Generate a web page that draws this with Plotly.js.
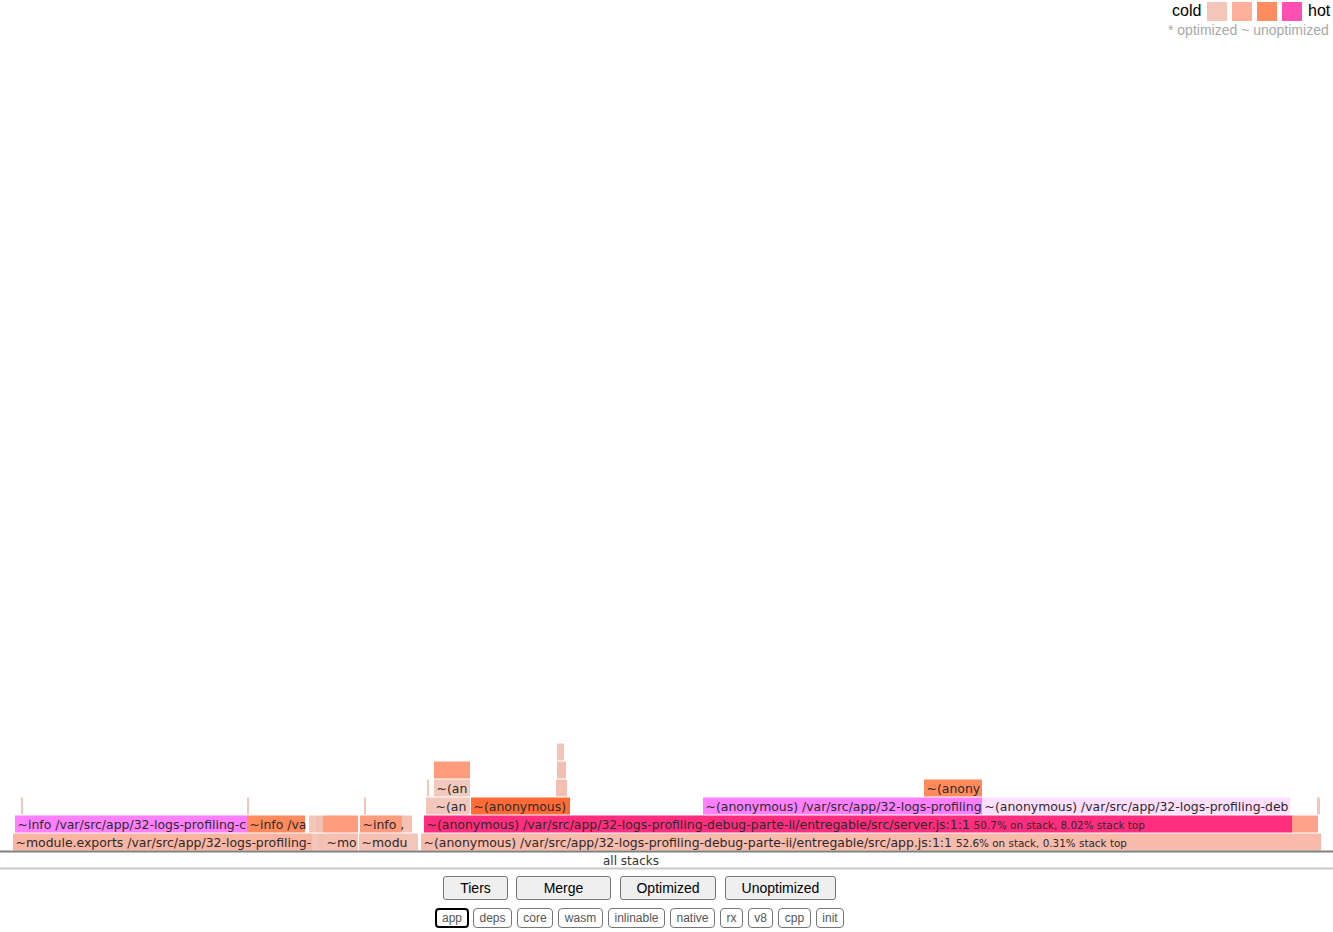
<!DOCTYPE html>
<html>
<head>
<meta charset="utf-8">
<script src="https://cdn.plot.ly/plotly-3.0.1.min.js"></script>
<style>
  html, body { margin: 0; padding: 0; background: #fff; }
  #chart { position: absolute; left: 0; top: 0; width: 1333px; height: 932px; }
  .btn { position: absolute; box-sizing: border-box; background: #efefef; border: 1px solid #767676;
         border-radius: 3px; font-family: "Liberation Sans", Arial, sans-serif; font-size: 14px; color: #000;
         text-align: center; padding: 0; margin: 0; line-height: 22px; }
  .tag { position: absolute; box-sizing: border-box; background: #fff; border: 1px solid #767676;
         border-radius: 4px; font-family: "Liberation Sans", Arial, sans-serif; font-size: 12px; color: #555;
         text-align: center; padding: 0; margin: 0; line-height: 18px; }
  .tag.on { border: 2px solid #000; line-height: 16px; }
</style>
</head>
<body>
<div id="chart"></div>
<script>
// ---- data (x in flamegraph width units, 0..1333 = full view) ----
const frameRow   = [0,0,0,0,0,0,0,
                    1,1,1,1,1,1,1,1,1,
                    2,2,2,2,2,2,2,2,2,
                    3,3,3,3,
                    4,4,
                    5];
const frameStart = [13,312,318,324,359,407,421,
                    15,247,309,316,323,360,402,424,1292,
                    21,247,364,426,433,471,703,982,1317,
                    427,434,556,924,
                    434,557,
                    557];
const frameEnd   = [312,318,324,358,407,418,1321,
                    247,305,316,323,358,402,412,1292,1318,
                    23,249,366,433,470,570,982,1290,1320,
                    429,470,567,982,
                    470,566,
                    564];
const frameLabel = [
  "~module.exports /var/src/app/32-logs-profiling-",
  "", "", "~mo", "~modu", "",
  "~(anonymous) /var/src/app/32-logs-profiling-debug-parte-ii/entregable/src/app.js:1:1",
  "~info /var/src/app/32-logs-profiling-c", "~info /va", "", "", "", "~info ,", "",
  "~(anonymous) /var/src/app/32-logs-profiling-debug-parte-ii/entregable/src/server.js:1:1",
  "",
  "", "", "", "", "~(an", "~(anonymous)",
  "~(anonymous) /var/src/app/32-logs-profiling",
  "~(anonymous) /var/src/app/32-logs-profiling-deb", "",
  "", "~(an", "", "~(anony",
  "", "",
  ""];
const frameStats = ["", "", "", "", "", "", "52.6% on stack, 0.31% stack top",
                    "", "", "", "", "", "", "", "50.7% on stack, 8.02% stack top", "",
                    "", "", "", "", "", "", "", "", "",
                    "", "", "", "",
                    "", "",
                    ""];
// heat class of each frame
const frameHeat  = ["warm1","pale","pale2","pale3","pale3","pale",  "warm0",
                    "app","orange","pale","pale2","salmon","salmon","pale3","hot","salmon2",
                    "pale","pale","pale","pale","pale4","red","app","appPale","pale",
                    "pale","pale4","pale2","orange",
                    "salmon","pale2",
                    "pale"];
const legendColors = ["#f4c6ba", "#ffb09b", "#ff8c5e", "#ff4fb3"];
const typeButtons = ["Tiers", "Merge", "Optimized", "Unoptimized"];
const filterButtons = ["app", "deps", "core", "wasm", "inlinable", "native", "rx", "v8", "cpp", "init"];

// ---- styles ----
const heatColor = {
  warm0: "#f7baab", warm1: "#fab4a2", pale: "#f4c5b9", pale2: "#f2bfb3", pale3: "#f6c0b3",
  pale4: "#f3c9be", salmon: "#ff9c7c", salmon2: "#ffa08a", orange: "#ff8a5c", red: "#ff6a35",
  hot: "#ff2d7d", app: "#ff80ff", appPale: "#ffdfff"
};
const W = 1333, H = 932;
const px = x => x / W, py = y => 1 - y / H;

const barTrace = {
  type: "bar", orientation: "h",
  y: frameRow,
  base: frameStart,
  x: frameStart.map((s, i) => frameEnd[i] - s),
  width: 0.94,
  marker: { color: frameHeat.map(h => heatColor[h]), line: { width: 0 } },
  hoverinfo: "none", textposition: "none"
};
const labelText = frameLabel.map((l, i) =>
  frameStats[i] ? l + ' <span style="font-size:10.4px">' + frameStats[i] + '</span>' : l);
const textTrace = {
  type: "scatter", mode: "text",
  x: frameStart.map(s => s + 2.5),
  y: frameRow.map(r => r - 0.1),
  text: labelText,
  textposition: "middle right",
  textfont: { family: "DejaVu Sans, Verdana, sans-serif", size: 12.45, color: "#2a2a2a" },
  hoverinfo: "none", cliponaxis: false
};

const shapes = [
  { type: "line", xref: "paper", yref: "paper", x0: 0, x1: 1, y0: py(851.5), y1: py(851.5),
    line: { color: "#808080", width: 2 } },
  { type: "line", xref: "paper", yref: "paper", x0: 0, x1: 1, y0: py(868.5), y1: py(868.5),
    line: { color: "#c8c8c8", width: 2 } }
];
legendColors.forEach((c, i) => {
  const x0 = 1207 + 25 * i;
  shapes.push({ type: "rect", xref: "paper", yref: "paper", x0: px(x0), x1: px(x0 + 20),
    y0: py(21), y1: py(2), fillcolor: c, line: { width: 0 } });
});

const annotations = [
  { text: "cold", xref: "paper", yref: "paper", x: px(1203), y: py(11), xanchor: "right", yanchor: "middle",
    showarrow: false, font: { family: "Liberation Sans, Arial", size: 16, color: "#000" } },
  { text: "hot", xref: "paper", yref: "paper", x: px(1306), y: py(11), xanchor: "left", yanchor: "middle",
    showarrow: false, font: { family: "Liberation Sans, Arial", size: 16, color: "#000" } },
  { text: "* optimized ~ unoptimized", xref: "paper", yref: "paper", x: px(1331), y: py(30), xanchor: "right",
    yanchor: "middle", showarrow: false, font: { family: "Liberation Sans, Arial", size: 14, color: "#a8a8a8" } },
  { text: "all stacks", xref: "paper", yref: "paper", x: px(631), y: py(861), xanchor: "center",
    yanchor: "middle", showarrow: false, font: { family: "DejaVu Sans, Verdana, sans-serif", size: 12, color: "#333" } }
];

const layout = {
  width: W, height: H,
  margin: { l: 0, r: 0, t: 0, b: 0 },
  paper_bgcolor: "#fff", plot_bgcolor: "#fff",
  showlegend: false,
  xaxis: { range: [0, W], visible: false, fixedrange: true },
  yaxis: { range: [(842 - H) / 18, 842 / 18], visible: false, fixedrange: true },
  shapes: shapes, annotations: annotations,
  hovermode: false
};
Plotly.newPlot("chart", [barTrace, textTrace], layout, { displayModeBar: false, staticPlot: true });

// ---- control buttons (HTML, as in the original page) ----
const typeLeft = [443, 516, 620, 725], typeWidth = [65, 95, 96, 111];
typeButtons.forEach((t, i) => {
  const b = document.createElement("button");
  b.className = "btn"; b.textContent = t;
  b.style.left = typeLeft[i] + "px"; b.style.top = "876px";
  b.style.width = typeWidth[i] + "px"; b.style.height = "24px";
  document.body.appendChild(b);
});
const tagLeft = [435, 473, 517, 558, 608, 670, 720, 748, 778, 816];
const tagWidth = [34, 39, 36, 45, 57, 45, 23, 25, 33, 28];
filterButtons.forEach((t, i) => {
  const b = document.createElement("button");
  b.className = "tag" + (i === 0 ? " on" : ""); b.textContent = t;
  b.style.left = tagLeft[i] + "px"; b.style.top = "908px";
  b.style.width = tagWidth[i] + "px"; b.style.height = "20px";
  document.body.appendChild(b);
});
</script>
</body>
</html>
